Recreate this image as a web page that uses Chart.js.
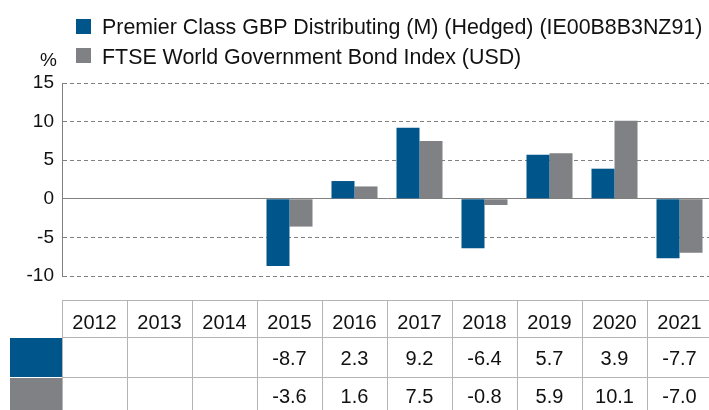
<!DOCTYPE html>
<html lang="en">
<head>
    <meta charset="UTF-8">
    <title>Calendar year performance</title>
    <script src="https://cdn.jsdelivr.net/npm/chart.js"></script>
    <style>
        html, body {
            margin: 0;
            padding: 0;
            background: #fff;
            overflow: hidden;
        }

        .chart-box {
            position: relative;
            width: 712px;
            height: 410px;
        }
    </style>
</head>
<body>
    <div class="chart-box">
        <canvas id="perfChart"></canvas>
    </div>

    <script>
        // Data
        const years = ['2012', '2013', '2014', '2015', '2016', '2017', '2018', '2019', '2020', '2021'];
        const fundValues = [null, null, null, -8.7, 2.3, 9.2, -6.4, 5.7, 3.9, -7.7];
        const indexValues = [null, null, null, -3.6, 1.6, 7.5, -0.8, 5.9, 10.1, -7.0];
        const seriesNames = [
            'Premier Class GBP Distributing (M) (Hedged) (IE00B8B3NZ91)',
            'FTSE World Government Bond Index (USD)'
        ];
        const yTicks = [-10, -5, 0, 5, 10, 15];

        const BLUE = '#00568a';
        const GREY = '#808184';
        const FONT = '"Liberation Sans", Arial, sans-serif';

        // Legend, % label and the data table under the bars
        const extrasPlugin = {
            id: 'extras',
            afterDraw(chart) {
                const ctx = chart.ctx;
                const x = chart.scales.x;
                const area = chart.chartArea;
                ctx.save();

                // legend
                ctx.font = '21.4px ' + FONT;
                ctx.textBaseline = 'alphabetic';
                ctx.textAlign = 'left';
                ctx.fillStyle = BLUE;
                ctx.fillRect(76, 19, 15, 15);
                ctx.fillStyle = GREY;
                ctx.fillRect(76, 48, 15, 15);
                ctx.fillStyle = '#111';
                ctx.fillText(seriesNames[0], 102, 34);
                ctx.fillText(seriesNames[1], 102, 64);

                // unit
                ctx.font = '19px ' + FONT;
                ctx.fillText('%', 40, 66);

                // table
                const top = 300, row1 = 337, row2 = 377, bottom = 410;
                const colW = x.width / years.length;
                ctx.fillStyle = BLUE;
                ctx.fillRect(10, row1 + 1, area.left - 10, row2 - row1 - 1);
                ctx.fillStyle = GREY;
                ctx.fillRect(10, row2 + 1, area.left - 10, bottom - row2);

                ctx.strokeStyle = '#b4b4b4';
                ctx.lineWidth = 1;
                ctx.beginPath();
                [top, row1, row2].forEach(y => {
                    ctx.moveTo(area.left, y + 0.5);
                    ctx.lineTo(area.right, y + 0.5);
                });
                for (let i = 0; i <= years.length; i++) {
                    const cx = Math.round(area.left + i * colW) + 0.5;
                    ctx.moveTo(cx, top);
                    ctx.lineTo(cx, bottom);
                }
                ctx.stroke();

                ctx.fillStyle = '#111';
                ctx.font = '20px ' + FONT;
                ctx.textAlign = 'center';
                ctx.textBaseline = 'middle';
                years.forEach((yr, i) => {
                    const cx = x.getPixelForValue(i);
                    ctx.fillText(yr, cx, 323);
                    if (fundValues[i] !== null) ctx.fillText(fundValues[i].toFixed(1), cx, 359);
                    if (indexValues[i] !== null) ctx.fillText(indexValues[i].toFixed(1), cx, 397);
                });

                ctx.restore();
            }
        };

        new Chart(document.getElementById('perfChart'), {
            type: 'bar',
            data: {
                labels: years,
                datasets: [
                    { label: seriesNames[0], data: fundValues, backgroundColor: BLUE },
                    { label: seriesNames[1], data: indexValues, backgroundColor: GREY }
                ]
            },
            options: {
                responsive: true,
                maintainAspectRatio: false,
                animation: false,
                layout: {
                    padding: { top: 83, bottom: 134, left: 0, right: 0 }
                },
                datasets: {
                    bar: { categoryPercentage: 0.708, barPercentage: 1 }
                },
                plugins: {
                    legend: { display: false },
                    tooltip: { enabled: false }
                },
                scales: {
                    x: {
                        display: false,
                        grid: { display: false }
                    },
                    y: {
                        min: -10,
                        max: 15,
                        afterBuildTicks: scale => {
                            scale.ticks = yTicks.map(v => ({ value: v }));
                        },
                        afterFit: scale => {
                            scale.width = 62;
                        },
                        ticks: {
                            color: '#111',
                            padding: 8,
                            font: { family: FONT, size: 19 }
                        },
                        grid: {
                            drawTicks: false,
                            color: '#808080',
                            lineWidth: 1
                        },
                        border: {
                            display: true,
                            color: '#808080',
                            dash: c => (c.tick && c.tick.value === 0 ? [] : [4, 3])
                        }
                    }
                }
            },
            plugins: [extrasPlugin]
        });
    </script>
</body>
</html>
